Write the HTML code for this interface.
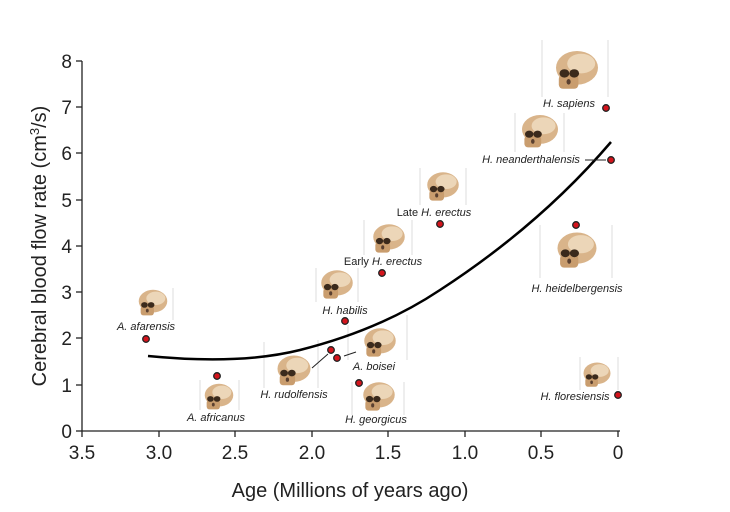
<!DOCTYPE html>
<html><head><meta charset="utf-8"><style>
body{margin:0;background:#fff}
svg{display:block;font-family:"Liberation Sans","DejaVu Sans",sans-serif}
.t{font-size:19px;fill:#222}
.l{font-size:11px;fill:#222;text-anchor:middle}
</style></head><body>
<svg width="730" height="512" viewBox="0 0 730 512">
<defs>
<g id="sk">
<ellipse cx="0" cy="-3" rx="15" ry="12" fill="#d9b48a"/>
<ellipse cx="3" cy="-6" rx="10" ry="7" fill="#ecd6b8"/>
<rect x="-13" y="2" width="14" height="10" rx="3" fill="#c99d6e"/>
<ellipse cx="-9" cy="1" rx="3.5" ry="3" fill="#3b2a1c"/>
<ellipse cx="-2" cy="1" rx="3.5" ry="3" fill="#3b2a1c"/>
<ellipse cx="-6" cy="7" rx="1.5" ry="2" fill="#5a4030"/>
</g>
</defs>
<g stroke="#ddd" stroke-width="1">
<line x1="173" y1="288" x2="173" y2="320"/><line x1="200" y1="380" x2="200" y2="410"/><line x1="239" y1="380" x2="239" y2="410"/>
<line x1="264" y1="342" x2="264" y2="388"/><line x1="318" y1="340" x2="318" y2="388"/>
<line x1="316" y1="268" x2="316" y2="302"/><line x1="358" y1="268" x2="358" y2="302"/>
<line x1="348" y1="325" x2="348" y2="360"/><line x1="407" y1="315" x2="407" y2="360"/>
<line x1="352" y1="382" x2="352" y2="415"/><line x1="404" y1="382" x2="404" y2="415"/>
<line x1="364" y1="220" x2="364" y2="255"/><line x1="412" y1="220" x2="412" y2="255"/>
<line x1="420" y1="168" x2="420" y2="205"/><line x1="466" y1="168" x2="466" y2="205"/>
<line x1="515" y1="113" x2="515" y2="152"/><line x1="564" y1="113" x2="564" y2="152"/>
<line x1="542" y1="40" x2="542" y2="97"/><line x1="608" y1="40" x2="608" y2="97"/>
<line x1="540" y1="225" x2="540" y2="278"/><line x1="612" y1="225" x2="612" y2="278"/>
<line x1="580" y1="357" x2="580" y2="390"/><line x1="618" y1="357" x2="618" y2="390"/>
</g>
<g stroke="#222" stroke-width="1.3">
<line x1="82" y1="61" x2="82" y2="431"/><line x1="82" y1="431" x2="620" y2="431"/>
<line x1="76" y1="61" x2="82" y2="61"/><line x1="76" y1="107" x2="82" y2="107"/><line x1="76" y1="153" x2="82" y2="153"/><line x1="76" y1="200" x2="82" y2="200"/><line x1="76" y1="246" x2="82" y2="246"/><line x1="76" y1="292" x2="82" y2="292"/><line x1="76" y1="338" x2="82" y2="338"/><line x1="76" y1="385" x2="82" y2="385"/><line x1="76" y1="431" x2="82" y2="431"/>
<line x1="82" y1="431" x2="82" y2="437"/><line x1="159" y1="431" x2="159" y2="437"/><line x1="235" y1="431" x2="235" y2="437"/><line x1="312" y1="431" x2="312" y2="437"/><line x1="388" y1="431" x2="388" y2="437"/><line x1="465" y1="431" x2="465" y2="437"/><line x1="541" y1="431" x2="541" y2="437"/><line x1="618" y1="431" x2="618" y2="437"/>
</g>
<g class="t" text-anchor="end">
<text x="72" y="68">8</text><text x="72" y="114">7</text><text x="72" y="160">6</text><text x="72" y="207">5</text><text x="72" y="253">4</text><text x="72" y="299">3</text><text x="72" y="345">2</text><text x="72" y="392">1</text><text x="72" y="438">0</text>
</g>
<g class="t" text-anchor="middle">
<text x="82" y="459">3.5</text><text x="159" y="459">3.0</text><text x="235" y="459">2.5</text><text x="312" y="459">2.0</text><text x="388" y="459">1.5</text><text x="465" y="459">1.0</text><text x="541" y="459">0.5</text><text x="618" y="459">0</text>
</g>
<text x="350" y="497" text-anchor="middle" style="font-size:20px;fill:#222">Age (Millions of years ago)</text>
<text transform="translate(46,246) rotate(-90)" text-anchor="middle" style="font-size:20px;fill:#222">Cerebral blood flow rate (cm<tspan dy="-7" font-size="13">3</tspan><tspan dy="7">/s)</tspan></text>
<path d="M148,356 Q240,365 300,350 Q380,330 440,290 Q540,225 611,142" fill="none" stroke="#000" stroke-width="2.5"/>
<g stroke="#222" stroke-width="1"><line x1="312" y1="368" x2="328" y2="354"/><line x1="344" y1="356" x2="356" y2="352"/><line x1="585" y1="160" x2="606" y2="160"/></g>
<use href="#sk" transform="translate(153,304) scale(0.95)"/>
<use href="#sk" transform="translate(219,398) scale(0.95)"/>
<use href="#sk" transform="translate(294,372) scale(1.1)"/>
<use href="#sk" transform="translate(337,286) scale(1.05)"/>
<use href="#sk" transform="translate(380,344) scale(1.05)"/>
<use href="#sk" transform="translate(379,398) scale(1.05)"/>
<use href="#sk" transform="translate(389,240) scale(1.05)"/>
<use href="#sk" transform="translate(443,188) scale(1.05)"/>
<use href="#sk" transform="translate(540,133) scale(1.2)"/>
<use href="#sk" transform="translate(577,72) scale(1.4)"/>
<use href="#sk" transform="translate(577,252) scale(1.3)"/>
<use href="#sk" transform="translate(597,376) scale(0.9)"/>
<g class="l" font-style="italic">
<text x="146" y="330">A. afarensis</text>
<text x="216" y="421">A. africanus</text>
<text x="294" y="398">H. rudolfensis</text>
<text x="345" y="314">H. habilis</text>
<text x="374" y="370">A. boisei</text>
<text x="376" y="423">H. georgicus</text>
<text x="569" y="107">H. sapiens</text>
<text x="531" y="163">H. neanderthalensis</text>
<text x="577" y="292">H. heidelbergensis</text>
<text x="575" y="400">H. floresiensis</text>
</g>
<g class="l"><text x="383" y="265">Early <tspan font-style="italic">H. erectus</tspan></text>
<text x="434" y="216">Late <tspan font-style="italic">H. erectus</tspan></text></g>
<g fill="#d4141c" stroke="#222" stroke-width="1.3">
<circle cx="146" cy="339" r="3.3"/><circle cx="217" cy="376" r="3.3"/><circle cx="331" cy="350" r="3.3"/><circle cx="337" cy="358" r="3.3"/><circle cx="345" cy="321" r="3.3"/><circle cx="359" cy="383" r="3.3"/><circle cx="382" cy="273" r="3.3"/><circle cx="440" cy="224" r="3.3"/><circle cx="576" cy="225" r="3.3"/><circle cx="611" cy="160" r="3.3"/><circle cx="606" cy="108" r="3.3"/><circle cx="618" cy="395" r="3.3"/>
</g>
</svg>
</body></html>
